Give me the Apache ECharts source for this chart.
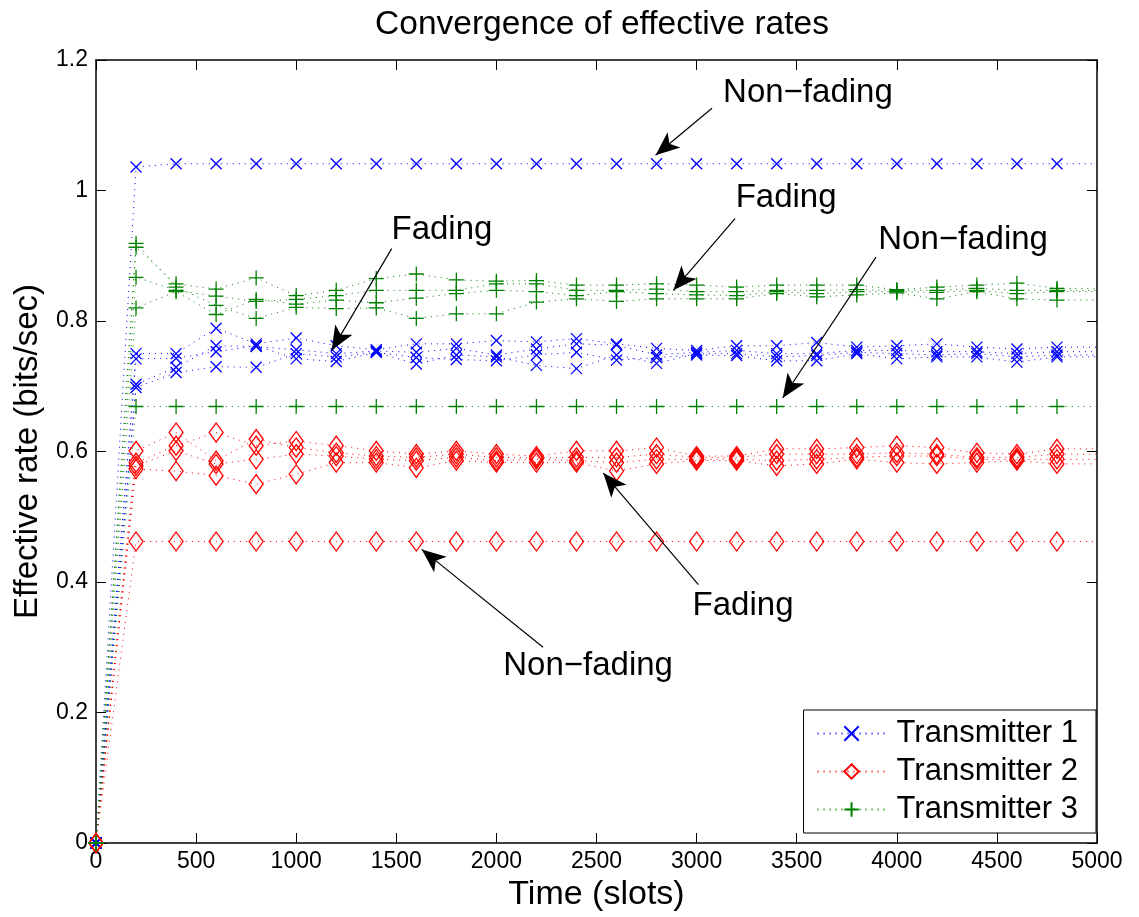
<!DOCTYPE html>
<html>
<head>
<meta charset="utf-8">
<script src="https://cdn.jsdelivr.net/npm/echarts@6/dist/echarts.min.js"></script>
<style>
html,body{margin:0;padding:0;background:#fff;}
#chart{width:1139px;height:917px;}
</style>
</head>
<body>
<div id="chart"></div>
<script>
// ---------------- data ----------------
const slots = [200,400,600,800,1000,1200,1400,1600,1800,2000,2200,2400,2600,2800,3000,3200,3400,3600,3800,4000,4200,4400,4600,4800];
const xTicks = [0,500,1000,1500,2000,2500,3000,3500,4000,4500,5000];
const yTicks = [0,0.2,0.4,0.6,0.8,1,1.2];
const legendNames = ['Transmitter 1','Transmitter 2','Transmitter 3'];

// Transmitter 1 (blue, x)
const tx1NonFading = [1.036,1.041,1.041,1.041,1.041,1.041,1.041,1.041,1.041,1.041,1.041,1.041,1.041,1.041,1.041,1.041,1.041,1.041,1.041,1.041,1.041,1.041,1.041,1.041];
const tx1FadingA = [0.750,0.750,0.789,0.765,0.774,0.762,0.756,0.765,0.765,0.770,0.768,0.773,0.765,0.758,0.755,0.762,0.762,0.767,0.760,0.762,0.765,0.760,0.757,0.760];
const tx1FadingB = [0.742,0.743,0.753,0.762,0.742,0.738,0.752,0.744,0.741,0.739,0.748,0.752,0.740,0.744,0.748,0.747,0.739,0.739,0.750,0.742,0.745,0.745,0.737,0.745];
const tx1FadingC = [0.703,0.729,0.762,0.761,0.756,0.750,0.754,0.752,0.758,0.748,0.757,0.765,0.763,0.748,0.752,0.755,0.750,0.750,0.755,0.755,0.753,0.753,0.750,0.753];
const tx1FadingD = [0.698,0.721,0.730,0.729,0.750,0.745,0.752,0.734,0.748,0.745,0.732,0.727,0.748,0.735,0.750,0.750,0.745,0.747,0.752,0.750,0.748,0.750,0.745,0.748];

// Transmitter 2 (red, diamond)
const tx2NonFading = [0.462,0.462,0.462,0.462,0.462,0.462,0.462,0.462,0.462,0.462,0.462,0.462,0.462,0.462,0.462,0.462,0.462,0.462,0.462,0.462,0.462,0.462,0.462,0.462];
const tx2FadingA = [0.601,0.629,0.586,0.619,0.606,0.598,0.593,0.591,0.596,0.591,0.590,0.591,0.591,0.596,0.591,0.591,0.596,0.596,0.596,0.598,0.596,0.591,0.591,0.596];
const tx2FadingB = [0.583,0.609,0.629,0.609,0.616,0.609,0.601,0.596,0.601,0.596,0.593,0.601,0.601,0.606,0.593,0.593,0.604,0.604,0.606,0.609,0.606,0.598,0.596,0.604];
const tx2FadingC = [0.578,0.601,0.581,0.588,0.596,0.593,0.588,0.586,0.591,0.586,0.588,0.586,0.583,0.588,0.588,0.588,0.586,0.588,0.591,0.593,0.593,0.588,0.588,0.588];
const tx2FadingD = [0.573,0.570,0.563,0.550,0.565,0.583,0.583,0.575,0.586,0.583,0.583,0.583,0.570,0.581,0.586,0.586,0.578,0.581,0.588,0.583,0.581,0.583,0.586,0.581];

// Transmitter 3 (green, +)
const tx3NonFading = [0.669,0.669,0.669,0.669,0.669,0.669,0.669,0.669,0.669,0.669,0.669,0.669,0.669,0.669,0.669,0.669,0.669,0.669,0.669,0.669,0.669,0.669,0.669,0.669];
const tx3FadingA = [0.919,0.852,0.824,0.804,0.821,0.819,0.820,0.804,0.811,0.811,0.829,0.834,0.830,0.834,0.834,0.834,0.842,0.837,0.840,0.843,0.834,0.845,0.834,0.832];
const tx3FadingB = [0.913,0.857,0.849,0.866,0.839,0.847,0.865,0.872,0.863,0.861,0.862,0.855,0.855,0.857,0.855,0.852,0.855,0.855,0.855,0.848,0.852,0.855,0.858,0.850];
const tx3FadingC = [0.867,0.847,0.838,0.830,0.833,0.839,0.847,0.847,0.847,0.857,0.857,0.847,0.847,0.849,0.845,0.845,0.847,0.847,0.848,0.847,0.847,0.850,0.847,0.847];
const tx3FadingD = [0.820,0.845,0.810,0.833,0.826,0.832,0.828,0.835,0.842,0.847,0.845,0.839,0.845,0.842,0.840,0.839,0.845,0.842,0.845,0.845,0.844,0.847,0.842,0.845];

// annotation texts with anchor (data coords) and arrow tail/tip (data coords)
const annotationTexts = ['Non\u2212fading','Fading','Fading','Non\u2212fading','Fading','Non\u2212fading'];
const annotationAt   = [[3556,1.149],[1728,0.939],[3447,0.988],[4331,0.925],[3232,0.364],[2458,0.272]];
const arrowTail      = [[3077,1.126],[1477,0.911],[3192,0.957],[3896,0.898],[3009,0.396],[2233,0.300]];
const arrowTip       = [[2795,1.054],[1177,0.755],[2884,0.847],[3430,0.682],[2534,0.567],[1627,0.450]];

// ---------------- build ----------------
const FONT = 'Liberation Sans, Arial, Helvetica, sans-serif';
const XPATH = 'path://M0,0L10,10M10,0L0,10';
const PLUSPATH = 'path://M5,0L5,10M0,5L10,5';
const DIAPATH = 'path://M5,0L10,5L5,10L0,5Z';

function runData(vals){
  const d = [[0,0]];
  slots.forEach((t,i)=>d.push([t, vals[i]]));
  d.push({value:[5000, vals[vals.length-1]], symbol:'none'});
  return d;
}
const groups = [
  {name:legendNames[0], color:'#0000ff', symbol:XPATH, size:[11,11], runs:[tx1NonFading,tx1FadingA,tx1FadingB,tx1FadingC,tx1FadingD]},
  {name:legendNames[1], color:'#ff0000', symbol:DIAPATH, size:[14,19], runs:[tx2NonFading,tx2FadingA,tx2FadingB,tx2FadingC,tx2FadingD]},
  {name:legendNames[2], color:'#008000', symbol:PLUSPATH, size:[15,15], runs:[tx3NonFading,tx3FadingA,tx3FadingB,tx3FadingC,tx3FadingD]}
];
const series = [];
groups.forEach(g=>{
  g.runs.forEach(r=>{
    series.push({
      type:'line', name:g.name, xAxisIndex:0, yAxisIndex:0,
      data: runData(r),
      symbol:g.symbol, symbolSize:g.size, showAllSymbol:true,
      lineStyle:{color:g.color, width:1, type:[1,5]},
      itemStyle:{color:'rgba(0,0,0,0)', borderColor:g.color, borderWidth:1.3},
      emphasis:{disabled:true}, silent:true
    });
  });
});

// annotation helper series
series.push({
  type:'line', name:'annot', data:[], xAxisIndex:0, yAxisIndex:0, silent:true,
  markLine:{
    silent:true, animation:false,
    lineStyle:{color:'#000', width:1.2, type:'solid'},
    label:{show:false},
    symbol:['none','arrow'], symbolSize:[15,24],
    data: arrowTail.map((t,i)=>[{coord:t, symbol:'none'},{coord:arrowTip[i], symbol:'arrow', symbolSize:[15,24]}])
  },
  markPoint:{
    silent:true, animation:false,
    symbol:'rect', symbolSize:1, itemStyle:{color:'rgba(0,0,0,0)'},
    label:{show:true, position:'inside', color:'#000', fontSize:33, fontFamily:FONT, formatter:p=>p.name},
    data: annotationAt.map((a,i)=>({coord:a, name:annotationTexts[i]}))
  }
});

const axisCommonX = {type:'value', min:0, max:5000, interval:500};
const axisCommonY = {type:'value', min:0, max:1.2, interval:0.2};
const option = {
  animation:false,
  backgroundColor:'#fff',
  title:{text:'Convergence of effective rates', left:597, textAlign:'center', top:3,
    textStyle:{fontFamily:FONT, fontSize:33.5, fontWeight:'normal', color:'#000'}},
  grid:{left:96, right:42, top:60, bottom:74, show:false, containLabel:false, outerBoundsMode:'none'},
  legend:{
    data:legendNames, orient:'vertical', right:43, bottom:84,
    backgroundColor:'#fff', borderColor:'#000', borderWidth:1, borderRadius:0,
    padding:[8,18,8,13], itemGap:7, itemWidth:68, itemHeight:18,
    textStyle:{fontFamily:FONT, fontSize:31, color:'#000', lineHeight:31, padding:[0,0,0,6]},
    selectedMode:false
  },
  xAxis:[
    Object.assign({}, axisCommonX, {position:'bottom',
      name:'Time (slots)', nameLocation:'middle', nameGap:34,
      nameTextStyle:{fontFamily:FONT, fontSize:34, color:'#000'},
      axisLine:{show:true, onZero:false, lineStyle:{color:'#000', width:1.5}},
      axisTick:{show:true, inside:true, length:10, lineStyle:{color:'#000'}},
      axisLabel:{show:true, fontFamily:FONT, fontSize:23, color:'#000', margin:7,
        formatter:v=> xTicks.indexOf(v)>=0 ? String(v) : ''},
      splitLine:{show:false}}),
    Object.assign({}, axisCommonX, {position:'top',
      axisLine:{show:true, onZero:false, lineStyle:{color:'#000', width:1.5}},
      axisTick:{show:true, inside:true, length:10, lineStyle:{color:'#000'}},
      axisLabel:{show:false}, splitLine:{show:false}})
  ],
  yAxis:[
    Object.assign({}, axisCommonY, {position:'left',
      name:'Effective rate (bits/sec)', nameLocation:'middle', nameGap:52, nameRotate:90,
      nameTextStyle:{fontFamily:FONT, fontSize:33, color:'#000'},
      axisLine:{show:true, onZero:false, lineStyle:{color:'#000', width:1.5}},
      axisTick:{show:true, inside:true, length:10, lineStyle:{color:'#000'}},
      axisLabel:{show:true, fontFamily:FONT, fontSize:23, color:'#000', margin:8,
        formatter:v=>{const r=Math.round(v*10)/10; return yTicks.indexOf(r)>=0 ? String(r) : '';}},
      splitLine:{show:false}}),
    Object.assign({}, axisCommonY, {position:'right',
      axisLine:{show:true, onZero:false, lineStyle:{color:'#000', width:1.5}},
      axisTick:{show:true, inside:true, length:10, lineStyle:{color:'#000'}},
      axisLabel:{show:false}, splitLine:{show:false}})
  ],
  series: series
};
const chart = echarts.init(document.getElementById('chart'), null, {renderer:'canvas'});
chart.setOption(option);
</script>
</body>
</html>
